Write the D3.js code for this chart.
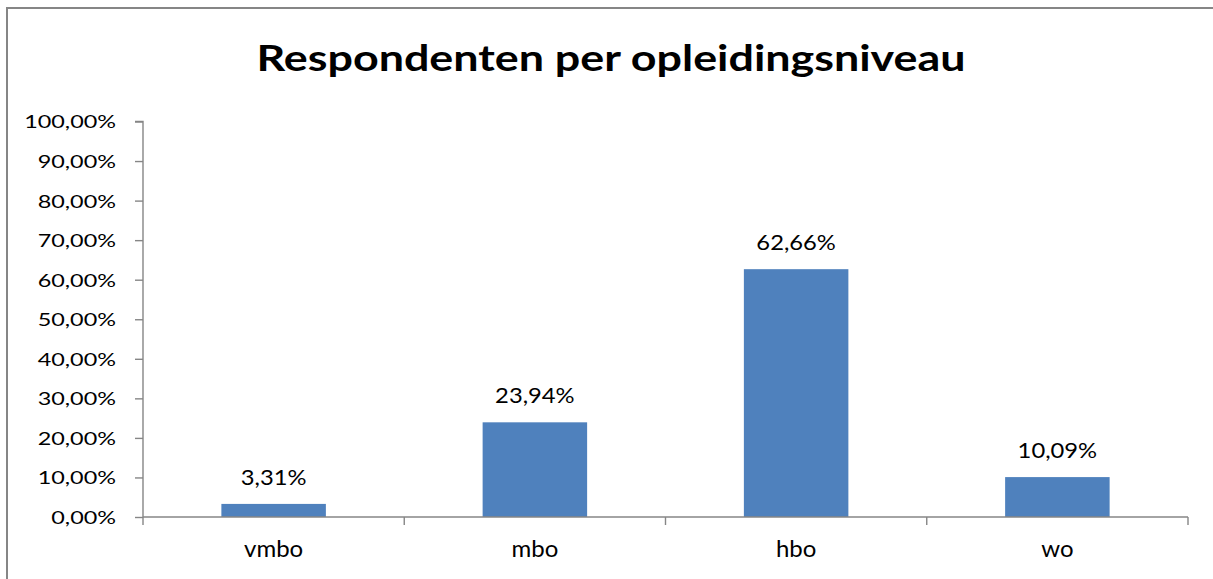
<!DOCTYPE html>
<html>
<head>
<meta charset="utf-8">
<script src="https://cdn.jsdelivr.net/npm/d3@7"></script>
<style>
  html, body { margin: 0; padding: 0; background: #fff; }
  svg { display: block; }
  text { font-family: Lato, "Open Sans", sans-serif; fill: #000; }
</style>
</head>
<body>
<svg id="chart" width="1213" height="579"></svg>
<script>
// Share of respondents by education level
const categories = ["vmbo", "mbo", "hbo", "wo"];
const values = [3.31, 23.94, 62.66, 10.09];
const yTicks = [0, 10, 20, 30, 40, 50, 60, 70, 80, 90, 100];
const title = "Respondenten per opleidingsniveau";

const svg = d3.select("#chart");
const W = 1213, H = 579;
const plot = { left: 143, right: 1188, top: 121.5, bottom: 517 };
const axisColor = "#868686";

const fmt = v => v.toFixed(2).replace(".", ",") + "%";

// widen a text horizontally around its anchor point
function widen(sel, sx) {
  sel.each(function () {
    const t = d3.select(this);
    const x = +t.attr("x") || 0;
    t.attr("transform", `translate(${x},0) scale(${sx},1) translate(${-x},0)`);
  });
}

// outer chart frame
svg.append("rect")
  .attr("x", 7).attr("y", 8)
  .attr("width", W + 20).attr("height", H + 20)
  .attr("fill", "#fff")
  .attr("stroke", axisColor).attr("stroke-width", 2);

svg.append("text")
  .attr("x", 611).attr("y", 71)
  .attr("text-anchor", "middle")
  .style("font-weight", "bold")
  .style("font-size", "35.3px")
  .text(title)
  .call(widen, 1.27);

const x = d3.scaleBand().domain(categories)
  .range([plot.left, plot.right]).paddingInner(0.6).paddingOuter(0.3);
const xBand = d3.scaleBand().domain(categories).range([plot.left, plot.right]);
const y = d3.scaleLinear().domain([0, 100]).range([plot.bottom, plot.top]);

// y axis
const yAxis = svg.append("g")
  .attr("transform", `translate(${plot.left},0)`)
  .call(d3.axisLeft(y).tickValues(yTicks).tickSize(8).tickPadding(19).tickFormat(fmt));
yAxis.selectAll("path, line").attr("stroke", axisColor).attr("stroke-width", 1.4);
yAxis.select("path").attr("d", `M-8,${plot.top}H0V${plot.bottom}`);
yAxis.selectAll("text")
  .style("font-size", "18px")
  .attr("fill", "#000")
  .attr("dy", "0.36em")
  .call(widen, 1.3);

// bars
svg.append("g").selectAll("rect")
  .data(values)
  .join("rect")
  .attr("x", (d, i) => x(categories[i]))
  .attr("width", x.bandwidth())
  .attr("y", d => y(d))
  .attr("height", d => y(0) - y(d))
  .attr("fill", "#4F81BD");

// x axis with boundary ticks between categories
const xg = svg.append("g");
xg.append("line")
  .attr("x1", plot.left).attr("x2", plot.right)
  .attr("y1", plot.bottom).attr("y2", plot.bottom)
  .attr("stroke", axisColor).attr("stroke-width", 1.4);
const bounds = categories.map(c => xBand(c)).concat([plot.right]);
xg.selectAll("line.tick")
  .data(bounds)
  .join("line")
  .attr("class", "tick")
  .attr("x1", d => d).attr("x2", d => d)
  .attr("y1", plot.bottom).attr("y2", plot.bottom + 8)
  .attr("stroke", axisColor).attr("stroke-width", 1.4);
xg.selectAll("text")
  .data(categories)
  .join("text")
  .attr("x", d => xBand(d) + xBand.bandwidth() / 2)
  .attr("y", 557)
  .attr("text-anchor", "middle")
  .style("font-size", "24px")
  .text(d => d);

// value labels
svg.append("g").selectAll("text")
  .data(values)
  .join("text")
  .attr("x", (d, i) => x(categories[i]) + x.bandwidth() / 2)
  .attr("y", d => y(d) - 19)
  .attr("text-anchor", "middle")
  .style("font-size", "22px")
  .text(d => fmt(d))
  .call(widen, 1.08);
</script>
</body>
</html>
